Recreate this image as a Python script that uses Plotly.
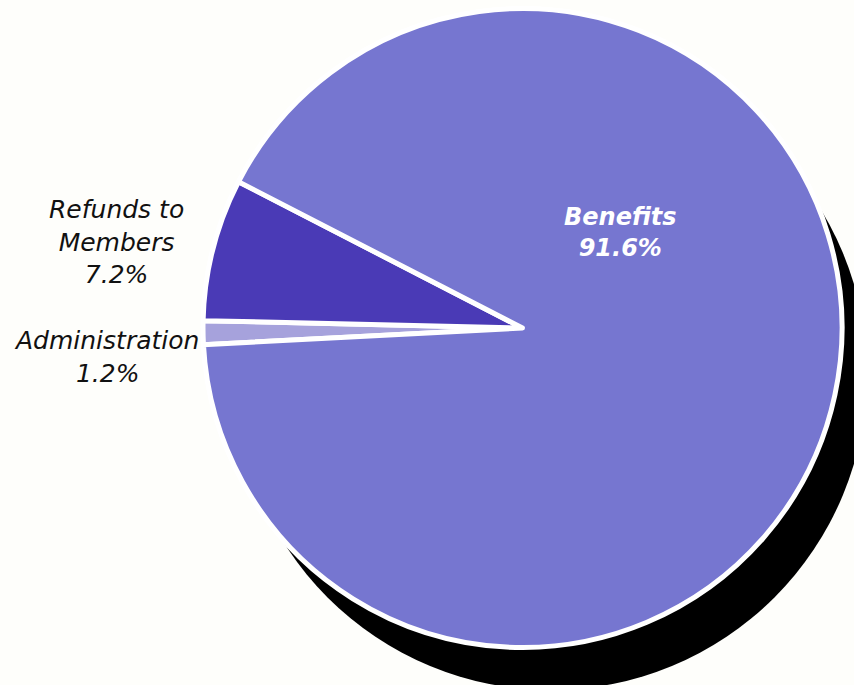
import plotly.graph_objects as go

# Distribution of fund expenditures (percent of total)
categories = ["Administration", "Refunds to Members", "Benefits"]
shares = [1.2, 7.2, 91.6]
display_names = ["Administration", "Refunds to<br>Members", "Benefits"]

slice_colors = ["#a6a2dc", "#4a3ab6", "#7676d0"]
label_colors = ["#111111", "#111111", "#ffffff"]

W, H = 854, 685
paper_bg = "#fefefb"

# pie geometry in pixels
cx, cy, r = 522.5, 328.0, 319.5
# drop shadow: same-size disc offset down and to the right
sx, sy, sr = 551.0, 374.0, 316.0

fig = go.Figure()
fig.add_trace(go.Pie(
    labels=categories,
    values=shares,
    sort=False,
    direction="clockwise",
    rotation=-93,
    marker=dict(colors=slice_colors, line=dict(color="#ffffff", width=5)),
    textinfo="none",
    hoverinfo="label+percent",
    showlegend=False,
    domain=dict(x=[(cx - r) / W, (cx + r) / W],
                y=[(H - cy - r) / H, (H - cy + r) / H]),
))

fig.add_shape(
    type="circle", xref="paper", yref="paper", layer="below",
    x0=(sx - sr) / W, x1=(sx + sr) / W,
    y0=(H - sy - sr) / H, y1=(H - sy + sr) / H,
    fillcolor="#000000", line=dict(width=0),
)

# label positions (pixels) and fonts for each category
label_pos = [(106, 356.5), (116, 241.5), (620, 232)]
label_fonts = [
    dict(family="DejaVu Sans", size=25, style="italic"),
    dict(family="DejaVu Sans", size=25, style="italic"),
    dict(family="DejaVu Sans", size=24, style="italic", weight="bold"),
]

for name, val, (px, py), fnt, col in zip(display_names, shares, label_pos,
                                          label_fonts, label_colors):
    fig.add_annotation(
        x=px / W, y=1 - py / H, xref="paper", yref="paper",
        xanchor="center", yanchor="middle", align="center",
        showarrow=False,
        text=f"{name}<br>{val:.1f}%",
        font=dict(color=col, **fnt),
    )

fig.update_layout(
    width=W, height=H,
    margin=dict(l=0, r=0, t=0, b=0),
    paper_bgcolor=paper_bg,
    plot_bgcolor=paper_bg,
)

fig.write_html("out.html")
